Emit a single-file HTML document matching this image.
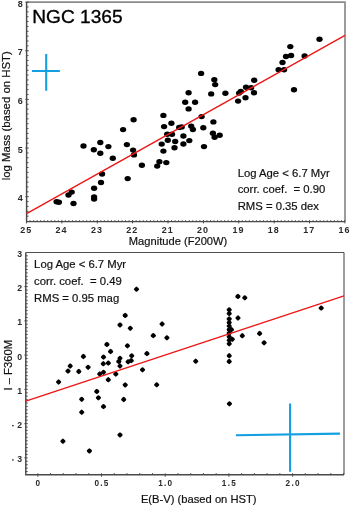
<!DOCTYPE html><html><head><meta charset="utf-8"><style>html,body{margin:0;padding:0;background:#fff;}svg{display:block;filter:blur(0.35px);}text{font-family:"Liberation Sans",sans-serif;}</style></head><body>
<svg width="350" height="507" viewBox="0 0 350 507">
<rect width="350" height="507" fill="#fff"/>
<path d="M26.6 2.1H345.0V221.6" fill="none" stroke="#8c8c8c" stroke-width="1.7"/>
<path d="M26.6 2.1V221.6H345.0" fill="none" stroke="#4a4a4a" stroke-width="1.45"/>
<path d="M26.6 216.16H28.5M26.6 211.29H28.5M26.6 206.43H28.5M26.6 201.56H28.5M25.3 196.70H28.8M26.6 191.84H28.5M26.6 186.97H28.5M26.6 182.10H28.5M26.6 177.24H28.5M26.6 172.38H28.5M26.6 167.51H28.5M26.6 162.64H28.5M26.6 157.78H28.5M26.6 152.91H28.5M25.3 148.05H28.8M26.6 143.19H28.5M26.6 138.32H28.5M26.6 133.45H28.5M26.6 128.59H28.5M26.6 123.72H28.5M26.6 118.86H28.5M26.6 113.99H28.5M26.6 109.13H28.5M26.6 104.26H28.5M25.3 99.40H28.8M26.6 94.54H28.5M26.6 89.67H28.5M26.6 84.81H28.5M26.6 79.94H28.5M26.6 75.07H28.5M26.6 70.21H28.5M26.6 65.34H28.5M26.6 60.48H28.5M26.6 55.61H28.5M25.3 50.75H28.8M26.6 45.89H28.5M26.6 41.02H28.5M26.6 36.16H28.5M26.6 31.29H28.5M26.6 26.42H28.5M26.6 21.56H28.5M26.6 16.69H28.5M26.6 11.83H28.5M26.6 6.96H28.5M25.3 2.10H28.8M344.92 223.4V220.0M341.38 221.6V220.2M337.84 221.6V220.2M334.31 221.6V220.2M330.77 221.6V220.2M327.23 221.6V220.2M323.69 221.6V220.2M320.15 221.6V220.2M316.62 221.6V220.2M313.08 221.6V220.2M309.54 223.4V220.0M306.00 221.6V220.2M302.46 221.6V220.2M298.93 221.6V220.2M295.39 221.6V220.2M291.85 221.6V220.2M288.31 221.6V220.2M284.77 221.6V220.2M281.24 221.6V220.2M277.70 221.6V220.2M274.16 223.4V220.0M270.62 221.6V220.2M267.08 221.6V220.2M263.55 221.6V220.2M260.01 221.6V220.2M256.47 221.6V220.2M252.93 221.6V220.2M249.39 221.6V220.2M245.86 221.6V220.2M242.32 221.6V220.2M238.78 223.4V220.0M235.24 221.6V220.2M231.70 221.6V220.2M228.17 221.6V220.2M224.63 221.6V220.2M221.09 221.6V220.2M217.55 221.6V220.2M214.01 221.6V220.2M210.48 221.6V220.2M206.94 221.6V220.2M203.40 223.4V220.0M199.86 221.6V220.2M196.32 221.6V220.2M192.79 221.6V220.2M189.25 221.6V220.2M185.71 221.6V220.2M182.17 221.6V220.2M178.63 221.6V220.2M175.10 221.6V220.2M171.56 221.6V220.2M168.02 223.4V220.0M164.48 221.6V220.2M160.94 221.6V220.2M157.41 221.6V220.2M153.87 221.6V220.2M150.33 221.6V220.2M146.79 221.6V220.2M143.25 221.6V220.2M139.72 221.6V220.2M136.18 221.6V220.2M132.64 223.4V220.0M129.10 221.6V220.2M125.56 221.6V220.2M122.03 221.6V220.2M118.49 221.6V220.2M114.95 221.6V220.2M111.41 221.6V220.2M107.87 221.6V220.2M104.34 221.6V220.2M100.80 221.6V220.2M97.26 223.4V220.0M93.72 221.6V220.2M90.18 221.6V220.2M86.65 221.6V220.2M83.11 221.6V220.2M79.57 221.6V220.2M76.03 221.6V220.2M72.49 221.6V220.2M68.96 221.6V220.2M65.42 221.6V220.2M61.88 223.4V220.0M58.34 221.6V220.2M54.80 221.6V220.2M51.27 221.6V220.2M47.73 221.6V220.2M44.19 221.6V220.2M40.65 221.6V220.2M37.11 221.6V220.2M33.58 221.6V220.2M30.04 221.6V220.2M26.50 223.4V220.0" stroke="#4a4a4a" stroke-width="1"/>
<text transform="translate(20.2 201.10) scale(1.1 1)" font-size="8.2" font-weight="bold" text-anchor="middle" fill="#2a2a2a">4</text>
<text transform="translate(20.2 152.75) scale(1.1 1)" font-size="8.2" font-weight="bold" text-anchor="middle" fill="#2a2a2a">5</text>
<text transform="translate(20.2 103.80) scale(1.1 1)" font-size="8.2" font-weight="bold" text-anchor="middle" fill="#2a2a2a">6</text>
<text transform="translate(20.2 55.15) scale(1.1 1)" font-size="8.2" font-weight="bold" text-anchor="middle" fill="#2a2a2a">7</text>
<text transform="translate(20.2 6.50) scale(1.1 1)" font-size="8.2" font-weight="bold" text-anchor="middle" fill="#2a2a2a">8</text>
<text transform="translate(344.62 232.8) scale(1.08 1)" font-size="8.3" font-weight="bold" letter-spacing="1.0" text-anchor="middle" fill="#2a2a2a">16</text>
<text transform="translate(309.24 232.8) scale(1.08 1)" font-size="8.3" font-weight="bold" letter-spacing="1.0" text-anchor="middle" fill="#2a2a2a">17</text>
<text transform="translate(273.86 232.8) scale(1.08 1)" font-size="8.3" font-weight="bold" letter-spacing="1.0" text-anchor="middle" fill="#2a2a2a">18</text>
<text transform="translate(238.48 232.8) scale(1.08 1)" font-size="8.3" font-weight="bold" letter-spacing="1.0" text-anchor="middle" fill="#2a2a2a">19</text>
<text transform="translate(203.10 232.8) scale(1.08 1)" font-size="8.3" font-weight="bold" letter-spacing="1.0" text-anchor="middle" fill="#2a2a2a">20</text>
<text transform="translate(167.72 232.8) scale(1.08 1)" font-size="8.3" font-weight="bold" letter-spacing="1.0" text-anchor="middle" fill="#2a2a2a">21</text>
<text transform="translate(132.34 232.8) scale(1.08 1)" font-size="8.3" font-weight="bold" letter-spacing="1.0" text-anchor="middle" fill="#2a2a2a">22</text>
<text transform="translate(96.96 232.8) scale(1.08 1)" font-size="8.3" font-weight="bold" letter-spacing="1.0" text-anchor="middle" fill="#2a2a2a">23</text>
<text transform="translate(61.58 232.8) scale(1.08 1)" font-size="8.3" font-weight="bold" letter-spacing="1.0" text-anchor="middle" fill="#2a2a2a">24</text>
<text transform="translate(26.20 232.8) scale(1.08 1)" font-size="8.3" font-weight="bold" letter-spacing="1.0" text-anchor="middle" fill="#2a2a2a">25</text>
<ellipse cx="56.6" cy="201.7" rx="3.15" ry="2.7" fill="#000"/>
<ellipse cx="58.9" cy="202.3" rx="3.15" ry="2.7" fill="#000"/>
<ellipse cx="68.5" cy="195" rx="3.15" ry="2.7" fill="#000"/>
<ellipse cx="71.7" cy="192.1" rx="3.15" ry="2.7" fill="#000"/>
<ellipse cx="73.5" cy="203.5" rx="3.15" ry="2.7" fill="#000"/>
<ellipse cx="94.1" cy="188.2" rx="3.15" ry="2.7" fill="#000"/>
<ellipse cx="94.1" cy="196.9" rx="3.15" ry="2.7" fill="#000"/>
<ellipse cx="94.1" cy="199.1" rx="3.15" ry="2.7" fill="#000"/>
<ellipse cx="101" cy="182.5" rx="3.15" ry="2.7" fill="#000"/>
<ellipse cx="102.1" cy="174" rx="3.15" ry="2.7" fill="#000"/>
<ellipse cx="83.5" cy="146" rx="3.15" ry="2.7" fill="#000"/>
<ellipse cx="93.8" cy="149.7" rx="3.15" ry="2.7" fill="#000"/>
<ellipse cx="100.3" cy="142.5" rx="3.15" ry="2.7" fill="#000"/>
<ellipse cx="100.3" cy="153.2" rx="3.15" ry="2.7" fill="#000"/>
<ellipse cx="108.4" cy="146.6" rx="3.15" ry="2.7" fill="#000"/>
<ellipse cx="112.8" cy="158.3" rx="3.15" ry="2.7" fill="#000"/>
<ellipse cx="123.1" cy="129.6" rx="3.15" ry="2.7" fill="#000"/>
<ellipse cx="133.6" cy="119.7" rx="3.15" ry="2.7" fill="#000"/>
<ellipse cx="126.9" cy="144.6" rx="3.15" ry="2.7" fill="#000"/>
<ellipse cx="133.1" cy="150.1" rx="3.15" ry="2.7" fill="#000"/>
<ellipse cx="134" cy="154.9" rx="3.15" ry="2.7" fill="#000"/>
<ellipse cx="127.7" cy="178.6" rx="3.15" ry="2.7" fill="#000"/>
<ellipse cx="141.9" cy="165.3" rx="3.15" ry="2.7" fill="#000"/>
<ellipse cx="157.2" cy="166.1" rx="3.15" ry="2.7" fill="#000"/>
<ellipse cx="159.4" cy="161.8" rx="3.15" ry="2.7" fill="#000"/>
<ellipse cx="166.3" cy="162.6" rx="3.15" ry="2.7" fill="#000"/>
<ellipse cx="163.4" cy="151.1" rx="3.15" ry="2.7" fill="#000"/>
<ellipse cx="161.7" cy="144.1" rx="3.15" ry="2.7" fill="#000"/>
<ellipse cx="167.8" cy="140.2" rx="3.15" ry="2.7" fill="#000"/>
<ellipse cx="175.2" cy="141.5" rx="3.15" ry="2.7" fill="#000"/>
<ellipse cx="183.4" cy="144" rx="3.15" ry="2.7" fill="#000"/>
<ellipse cx="189.3" cy="140.6" rx="3.15" ry="2.7" fill="#000"/>
<ellipse cx="174.5" cy="147.7" rx="3.15" ry="2.7" fill="#000"/>
<ellipse cx="204" cy="146.6" rx="3.15" ry="2.7" fill="#000"/>
<ellipse cx="167.2" cy="134.3" rx="3.15" ry="2.7" fill="#000"/>
<ellipse cx="172" cy="134.3" rx="3.15" ry="2.7" fill="#000"/>
<ellipse cx="183.4" cy="136" rx="3.15" ry="2.7" fill="#000"/>
<ellipse cx="163.4" cy="115.4" rx="3.15" ry="2.7" fill="#000"/>
<ellipse cx="171.4" cy="123.2" rx="3.15" ry="2.7" fill="#000"/>
<ellipse cx="164.1" cy="126.6" rx="3.15" ry="2.7" fill="#000"/>
<ellipse cx="179.2" cy="127.4" rx="3.15" ry="2.7" fill="#000"/>
<ellipse cx="181.7" cy="126.9" rx="3.15" ry="2.7" fill="#000"/>
<ellipse cx="191.2" cy="126.1" rx="3.15" ry="2.7" fill="#000"/>
<ellipse cx="192.9" cy="129.5" rx="3.15" ry="2.7" fill="#000"/>
<ellipse cx="203.3" cy="127.7" rx="3.15" ry="2.7" fill="#000"/>
<ellipse cx="201.6" cy="116.6" rx="3.15" ry="2.7" fill="#000"/>
<ellipse cx="185.2" cy="102.2" rx="3.15" ry="2.7" fill="#000"/>
<ellipse cx="195.1" cy="102.2" rx="3.15" ry="2.7" fill="#000"/>
<ellipse cx="188.6" cy="108.9" rx="3.15" ry="2.7" fill="#000"/>
<ellipse cx="201.1" cy="73.4" rx="3.15" ry="2.7" fill="#000"/>
<ellipse cx="214.3" cy="79.8" rx="3.15" ry="2.7" fill="#000"/>
<ellipse cx="215.2" cy="84.6" rx="3.15" ry="2.7" fill="#000"/>
<ellipse cx="188.6" cy="92.8" rx="3.15" ry="2.7" fill="#000"/>
<ellipse cx="211.2" cy="93.9" rx="3.15" ry="2.7" fill="#000"/>
<ellipse cx="225.4" cy="93.2" rx="3.15" ry="2.7" fill="#000"/>
<ellipse cx="239.1" cy="93.1" rx="3.15" ry="2.7" fill="#000"/>
<ellipse cx="240.8" cy="91.4" rx="3.15" ry="2.7" fill="#000"/>
<ellipse cx="245.5" cy="97.7" rx="3.15" ry="2.7" fill="#000"/>
<ellipse cx="238.1" cy="101.1" rx="3.15" ry="2.7" fill="#000"/>
<ellipse cx="254" cy="92.7" rx="3.15" ry="2.7" fill="#000"/>
<ellipse cx="213.4" cy="121.9" rx="3.15" ry="2.7" fill="#000"/>
<ellipse cx="212.9" cy="133.2" rx="3.15" ry="2.7" fill="#000"/>
<ellipse cx="214.6" cy="137.2" rx="3.15" ry="2.7" fill="#000"/>
<ellipse cx="219.7" cy="135.3" rx="3.15" ry="2.7" fill="#000"/>
<ellipse cx="254.2" cy="80.2" rx="3.15" ry="2.7" fill="#000"/>
<ellipse cx="246" cy="87.2" rx="3.15" ry="2.7" fill="#000"/>
<ellipse cx="251.1" cy="87.7" rx="3.15" ry="2.7" fill="#000"/>
<ellipse cx="290.3" cy="46.6" rx="3.15" ry="2.7" fill="#000"/>
<ellipse cx="291.1" cy="55.5" rx="3.15" ry="2.7" fill="#000"/>
<ellipse cx="286" cy="56.5" rx="3.15" ry="2.7" fill="#000"/>
<ellipse cx="282.5" cy="62.5" rx="3.15" ry="2.7" fill="#000"/>
<ellipse cx="278.6" cy="69.7" rx="3.15" ry="2.7" fill="#000"/>
<ellipse cx="284.1" cy="69.7" rx="3.15" ry="2.7" fill="#000"/>
<ellipse cx="294" cy="89.7" rx="3.15" ry="2.7" fill="#000"/>
<ellipse cx="319.5" cy="39.2" rx="3.15" ry="2.7" fill="#000"/>
<ellipse cx="304.6" cy="56" rx="3.15" ry="2.7" fill="#000"/>
<line x1="26.6" y1="213.55" x2="345.0" y2="35.3" stroke="#ee1515" stroke-width="1.35"/>
<path d="M46.2 54.1V90.7M31.9 71H59.9" stroke="#14a0e0" stroke-width="2.1"/>
<text x="32.3" y="22.8" font-size="19.1" fill="#000" stroke="#000" stroke-width="0.35">NGC 1365</text>
<text x="237.7" y="177" font-size="11.3" fill="#111" stroke="#111" stroke-width="0.2">Log Age &lt; 6.7 Myr</text>
<text x="237.7" y="193.3" font-size="11.3" fill="#111" stroke="#111" stroke-width="0.2" xml:space="preserve">corr. coef.  = 0.90</text>
<text x="237.7" y="210" font-size="11.3" fill="#111" stroke="#111" stroke-width="0.2">RMS = 0.35 dex</text>
<text x="128.8" y="244.9" font-size="11.15" fill="#111" stroke="#111" stroke-width="0.2">Magnitude (F200W)</text>
<text transform="translate(9.7 180.3) rotate(-90)" font-size="11.4" fill="#111" stroke="#111" stroke-width="0.2">log Mass (based on HST)</text>
<path d="M344.0 252.5V474.8" fill="none" stroke="#8c8c8c" stroke-width="1.7"/>
<path d="M25.8 252.5H344.0" fill="none" stroke="#505050" stroke-width="1.2"/>
<path d="M25.8 252.5V474.8H344.0" fill="none" stroke="#4a4a4a" stroke-width="1.45"/>
<path d="M25.8 471.55H27.7M25.8 468.12H27.7M25.8 464.70H27.7M25.8 461.27H27.7M24.400000000000002 457.85H27.7M25.8 454.43H27.7M25.8 451.00H27.7M25.8 447.58H27.7M25.8 444.15H27.7M25.8 440.73H27.7M25.8 437.30H27.7M25.8 433.88H27.7M25.8 430.45H27.7M25.8 427.02H27.7M24.400000000000002 423.60H27.7M25.8 420.18H27.7M25.8 416.75H27.7M25.8 413.33H27.7M25.8 409.90H27.7M25.8 406.48H27.7M25.8 403.05H27.7M25.8 399.62H27.7M25.8 396.20H27.7M25.8 392.78H27.7M24.400000000000002 389.35H27.7M25.8 385.93H27.7M25.8 382.50H27.7M25.8 379.08H27.7M25.8 375.65H27.7M25.8 372.23H27.7M25.8 368.80H27.7M25.8 365.38H27.7M25.8 361.95H27.7M25.8 358.53H27.7M24.400000000000002 355.10H27.7M25.8 351.68H27.7M25.8 348.25H27.7M25.8 344.83H27.7M25.8 341.40H27.7M25.8 337.98H27.7M25.8 334.55H27.7M25.8 331.12H27.7M25.8 327.70H27.7M25.8 324.28H27.7M24.400000000000002 320.85H27.7M25.8 317.43H27.7M25.8 314.00H27.7M25.8 310.58H27.7M25.8 307.15H27.7M25.8 303.73H27.7M25.8 300.30H27.7M25.8 296.88H27.7M25.8 293.45H27.7M25.8 290.03H27.7M24.400000000000002 286.60H27.7M25.8 283.18H27.7M25.8 279.75H27.7M25.8 276.33H27.7M25.8 272.90H27.7M25.8 269.48H27.7M25.8 266.05H27.7M25.8 262.62H27.7M25.8 259.20H27.7M25.8 255.78H27.7M37.80 476.7V473.3M50.54 474.8V473.1M63.28 474.8V473.1M76.02 474.8V473.1M88.76 474.8V473.1M101.50 476.7V473.3M114.24 474.8V473.1M126.98 474.8V473.1M139.72 474.8V473.1M152.46 474.8V473.1M165.20 476.7V473.3M177.94 474.8V473.1M190.68 474.8V473.1M203.42 474.8V473.1M216.16 474.8V473.1M228.90 476.7V473.3M241.64 474.8V473.1M254.38 474.8V473.1M267.12 474.8V473.1M279.86 474.8V473.1M292.60 476.7V473.3M305.34 474.8V473.1M318.08 474.8V473.1M330.82 474.8V473.1M343.56 474.8V473.1" stroke="#4a4a4a" stroke-width="1"/>
<text x="19.7" y="256.85" font-size="8.7" font-weight="bold" text-anchor="middle" fill="#2a2a2a">3</text>
<text x="19.7" y="291.10" font-size="8.7" font-weight="bold" text-anchor="middle" fill="#2a2a2a">2</text>
<text x="19.7" y="325.35" font-size="8.7" font-weight="bold" text-anchor="middle" fill="#2a2a2a">1</text>
<text x="19.7" y="359.60" font-size="8.7" font-weight="bold" text-anchor="middle" fill="#2a2a2a">0</text>
<text x="19.7" y="393.85" font-size="8.7" font-weight="bold" text-anchor="middle" fill="#2a2a2a">1</text>
<text x="19.7" y="428.10" font-size="8.7" font-weight="bold" text-anchor="middle" fill="#2a2a2a">2</text>
<rect x="12.1" y="425.00" width="1.6" height="1.3" fill="#2a2a2a"/>
<text x="19.7" y="462.35" font-size="8.7" font-weight="bold" text-anchor="middle" fill="#2a2a2a">3</text>
<rect x="12.1" y="459.25" width="1.6" height="1.3" fill="#2a2a2a"/>
<text x="38.40" y="486.4" font-size="8.2" font-weight="bold" letter-spacing="1.3" text-anchor="middle" fill="#2a2a2a">0</text>
<text x="102.10" y="486.4" font-size="8.2" font-weight="bold" letter-spacing="1.3" text-anchor="middle" fill="#2a2a2a">0.5</text>
<text x="165.80" y="486.4" font-size="8.2" font-weight="bold" letter-spacing="1.3" text-anchor="middle" fill="#2a2a2a">1.0</text>
<text x="229.50" y="486.4" font-size="8.2" font-weight="bold" letter-spacing="1.3" text-anchor="middle" fill="#2a2a2a">1.5</text>
<text x="293.20" y="486.4" font-size="8.2" font-weight="bold" letter-spacing="1.3" text-anchor="middle" fill="#2a2a2a">2.0</text>
<rect x="-2.15" y="-2.15" width="4.3" height="4.3" rx="1.1" transform="translate(58.6 382.0) rotate(45)"/>
<rect x="-2.15" y="-2.15" width="4.3" height="4.3" rx="1.1" transform="translate(68 371.1) rotate(45)"/>
<rect x="-2.15" y="-2.15" width="4.3" height="4.3" rx="1.1" transform="translate(70.2 366.0) rotate(45)"/>
<rect x="-2.15" y="-2.15" width="4.3" height="4.3" rx="1.1" transform="translate(78.8 371.5) rotate(45)"/>
<rect x="-2.15" y="-2.15" width="4.3" height="4.3" rx="1.1" transform="translate(83.4 356.5) rotate(45)"/>
<rect x="-2.15" y="-2.15" width="4.3" height="4.3" rx="1.1" transform="translate(88.1 367.3) rotate(45)"/>
<rect x="-2.15" y="-2.15" width="4.3" height="4.3" rx="1.1" transform="translate(106.9 344.4) rotate(45)"/>
<rect x="-2.15" y="-2.15" width="4.3" height="4.3" rx="1.1" transform="translate(103.5 357.1) rotate(45)"/>
<rect x="-2.15" y="-2.15" width="4.3" height="4.3" rx="1.1" transform="translate(110.6 351.5) rotate(45)"/>
<rect x="-2.15" y="-2.15" width="4.3" height="4.3" rx="1.1" transform="translate(103.3 363.7) rotate(45)"/>
<rect x="-2.15" y="-2.15" width="4.3" height="4.3" rx="1.1" transform="translate(108.3 363.1) rotate(45)"/>
<rect x="-2.15" y="-2.15" width="4.3" height="4.3" rx="1.1" transform="translate(99.7 374.0) rotate(45)"/>
<rect x="-2.15" y="-2.15" width="4.3" height="4.3" rx="1.1" transform="translate(103.5 372.3) rotate(45)"/>
<rect x="-2.15" y="-2.15" width="4.3" height="4.3" rx="1.1" transform="translate(108.3 379.7) rotate(45)"/>
<rect x="-2.15" y="-2.15" width="4.3" height="4.3" rx="1.1" transform="translate(96.8 391.4) rotate(45)"/>
<rect x="-2.15" y="-2.15" width="4.3" height="4.3" rx="1.1" transform="translate(125.2 315.4) rotate(45)"/>
<rect x="-2.15" y="-2.15" width="4.3" height="4.3" rx="1.1" transform="translate(120 324.9) rotate(45)"/>
<rect x="-2.15" y="-2.15" width="4.3" height="4.3" rx="1.1" transform="translate(130.3 328.3) rotate(45)"/>
<rect x="-2.15" y="-2.15" width="4.3" height="4.3" rx="1.1" transform="translate(127.4 345.8) rotate(45)"/>
<rect x="-2.15" y="-2.15" width="4.3" height="4.3" rx="1.1" transform="translate(120 358.3) rotate(45)"/>
<rect x="-2.15" y="-2.15" width="4.3" height="4.3" rx="1.1" transform="translate(118.8 361.4) rotate(45)"/>
<rect x="-2.15" y="-2.15" width="4.3" height="4.3" rx="1.1" transform="translate(120 366.0) rotate(45)"/>
<rect x="-2.15" y="-2.15" width="4.3" height="4.3" rx="1.1" transform="translate(131.7 355.8) rotate(45)"/>
<rect x="-2.15" y="-2.15" width="4.3" height="4.3" rx="1.1" transform="translate(131.2 360.6) rotate(45)"/>
<rect x="-2.15" y="-2.15" width="4.3" height="4.3" rx="1.1" transform="translate(128.1 361.8) rotate(45)"/>
<rect x="-2.15" y="-2.15" width="4.3" height="4.3" rx="1.1" transform="translate(146.9 353.6) rotate(45)"/>
<rect x="-2.15" y="-2.15" width="4.3" height="4.3" rx="1.1" transform="translate(142.5 369.8) rotate(45)"/>
<rect x="-2.15" y="-2.15" width="4.3" height="4.3" rx="1.1" transform="translate(136.5 289.2) rotate(45)"/>
<rect x="-2.15" y="-2.15" width="4.3" height="4.3" rx="1.1" transform="translate(162.1 324.0) rotate(45)"/>
<rect x="-2.15" y="-2.15" width="4.3" height="4.3" rx="1.1" transform="translate(153.3 335.6) rotate(45)"/>
<rect x="-2.15" y="-2.15" width="4.3" height="4.3" rx="1.1" transform="translate(166.9 337.8) rotate(45)"/>
<rect x="-2.15" y="-2.15" width="4.3" height="4.3" rx="1.1" transform="translate(156.7 384.8) rotate(45)"/>
<rect x="-2.15" y="-2.15" width="4.3" height="4.3" rx="1.1" transform="translate(195.7 361.2) rotate(45)"/>
<rect x="-2.15" y="-2.15" width="4.3" height="4.3" rx="1.1" transform="translate(98.4 397.8) rotate(45)"/>
<rect x="-2.15" y="-2.15" width="4.3" height="4.3" rx="1.1" transform="translate(81.7 399.3) rotate(45)"/>
<rect x="-2.15" y="-2.15" width="4.3" height="4.3" rx="1.1" transform="translate(103.5 406.6) rotate(45)"/>
<rect x="-2.15" y="-2.15" width="4.3" height="4.3" rx="1.1" transform="translate(81.7 412.2) rotate(45)"/>
<rect x="-2.15" y="-2.15" width="4.3" height="4.3" rx="1.1" transform="translate(115.8 374.1) rotate(45)"/>
<rect x="-2.15" y="-2.15" width="4.3" height="4.3" rx="1.1" transform="translate(125.2 384.9) rotate(45)"/>
<rect x="-2.15" y="-2.15" width="4.3" height="4.3" rx="1.1" transform="translate(123.7 399.5) rotate(45)"/>
<rect x="-2.15" y="-2.15" width="4.3" height="4.3" rx="1.1" transform="translate(62.9 441.2) rotate(45)"/>
<rect x="-2.15" y="-2.15" width="4.3" height="4.3" rx="1.1" transform="translate(89.4 450.9) rotate(45)"/>
<rect x="-2.15" y="-2.15" width="4.3" height="4.3" rx="1.1" transform="translate(120 434.9) rotate(45)"/>
<rect x="-2.15" y="-2.15" width="4.3" height="4.3" rx="1.1" transform="translate(237.9 296.4) rotate(45)"/>
<rect x="-2.15" y="-2.15" width="4.3" height="4.3" rx="1.1" transform="translate(244.8 297.8) rotate(45)"/>
<rect x="-2.15" y="-2.15" width="4.3" height="4.3" rx="1.1" transform="translate(238 318.0) rotate(45)"/>
<rect x="-2.15" y="-2.15" width="4.3" height="4.3" rx="1.1" transform="translate(242.3 335.7) rotate(45)"/>
<rect x="-2.15" y="-2.15" width="4.3" height="4.3" rx="1.1" transform="translate(259.6 333.5) rotate(45)"/>
<rect x="-2.15" y="-2.15" width="4.3" height="4.3" rx="1.1" transform="translate(264.1 342.8) rotate(45)"/>
<rect x="-2.15" y="-2.15" width="4.3" height="4.3" rx="1.1" transform="translate(321.2 308.1) rotate(45)"/>
<rect x="-2.15" y="-2.15" width="4.3" height="4.3" rx="1.1" transform="translate(231.4 329.6) rotate(45)"/>
<rect x="-2.15" y="-2.15" width="4.3" height="4.3" rx="1.1" transform="translate(232.3 339.3) rotate(45)"/>
<rect x="-2.15" y="-2.15" width="4.3" height="4.3" rx="1.1" transform="translate(229.2 355.7) rotate(45)"/>
<rect x="-2.15" y="-2.15" width="4.3" height="4.3" rx="1.1" transform="translate(229.2 361.5) rotate(45)"/>
<rect x="-2.15" y="-2.15" width="4.3" height="4.3" rx="1.1" transform="translate(229.4 403.8) rotate(45)"/>
<rect x="-2.15" y="-2.15" width="4.3" height="4.3" rx="1.1" transform="translate(229.2 309.8) rotate(45)"/>
<rect x="-2.15" y="-2.15" width="4.3" height="4.3" rx="1.1" transform="translate(229.2 313.5) rotate(45)"/>
<rect x="-2.15" y="-2.15" width="4.3" height="4.3" rx="1.1" transform="translate(229.2 318.9) rotate(45)"/>
<rect x="-2.15" y="-2.15" width="4.3" height="4.3" rx="1.1" transform="translate(229.2 322.5) rotate(45)"/>
<rect x="-2.15" y="-2.15" width="4.3" height="4.3" rx="1.1" transform="translate(229.2 326.0) rotate(45)"/>
<rect x="-2.15" y="-2.15" width="4.3" height="4.3" rx="1.1" transform="translate(229.2 329.6) rotate(45)"/>
<rect x="-2.15" y="-2.15" width="4.3" height="4.3" rx="1.1" transform="translate(229.2 333.1) rotate(45)"/>
<rect x="-2.15" y="-2.15" width="4.3" height="4.3" rx="1.1" transform="translate(229.2 336.7) rotate(45)"/>
<rect x="-2.15" y="-2.15" width="4.3" height="4.3" rx="1.1" transform="translate(229.2 340.2) rotate(45)"/>
<rect x="-2.15" y="-2.15" width="4.3" height="4.3" rx="1.1" transform="translate(229.2 343.8) rotate(45)"/>
<line x1="25.8" y1="401.1" x2="344.0" y2="295.9" stroke="#ee1515" stroke-width="1.35"/>
<path d="M290.1 403.6V471.8M235.9 435.3L340 433.6" stroke="#14a0e0" stroke-width="2.1"/>
<text x="34.1" y="268" font-size="11.3" fill="#111" stroke="#111" stroke-width="0.2">Log Age &lt; 6.7 Myr</text>
<text x="34.1" y="284.6" font-size="11.3" fill="#111" stroke="#111" stroke-width="0.2" xml:space="preserve">corr. coef.  = 0.49</text>
<text x="34.1" y="301.7" font-size="11.3" fill="#111" stroke="#111" stroke-width="0.2">RMS = 0.95 mag</text>
<text x="140.9" y="503.1" font-size="11.2" fill="#111" stroke="#111" stroke-width="0.2">E(B-V) (based on HST)</text>
<text transform="translate(11.6 390.6) rotate(-90)" font-size="11.25" fill="#111" stroke="#111" stroke-width="0.2">I – F360M</text>
</svg></body></html>
